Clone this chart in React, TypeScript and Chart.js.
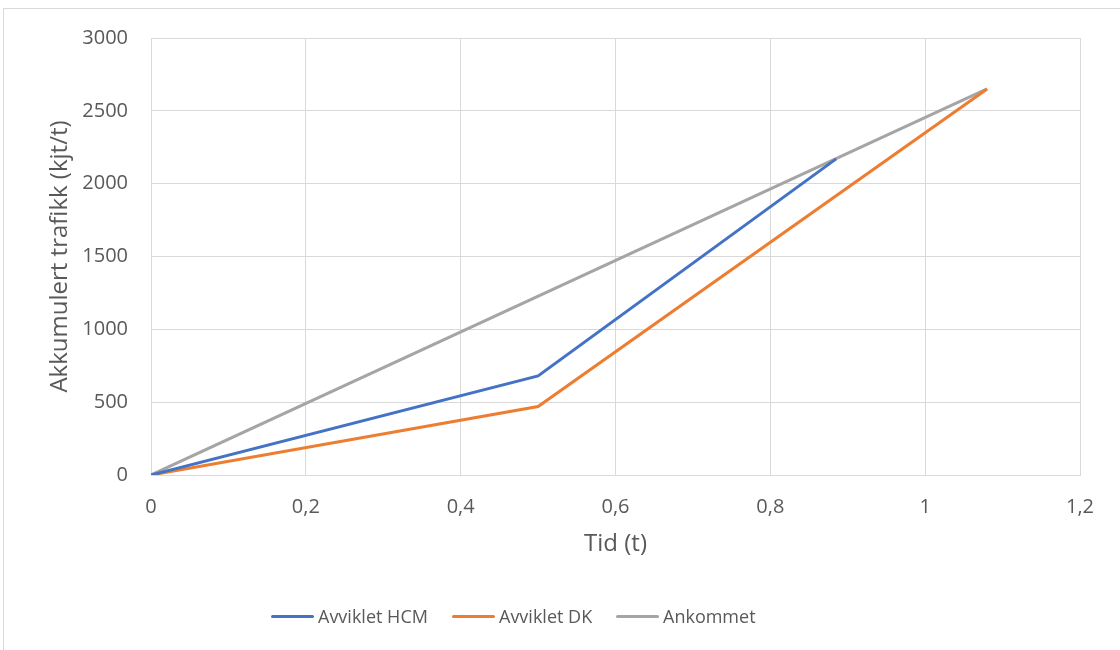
import React, { useEffect, useRef } from "react";
import { Chart, registerables } from "chart.js";

Chart.register(...registerables);

const seriesNames = ["Avviklet HCM", "Avviklet DK", "Ankommet"];
const hcmX = [0, 0.5, 0.885];
const hcmY = [0, 680, 2170];
const dkX = [0, 0.5, 1.08];
const dkY = [0, 470, 2650];
const arrX = [0, 1.08];
const arrY = [0, 2650];
const colors = ["#4472C4", "#ED7D31", "#A5A5A5"];
const legendLeft = [271, 452, 616];

const toPts = (xs: number[], ys: number[]) => xs.map((x, i) => ({ x, y: ys[i] }));
const font = "'Open Sans', 'Liberation Sans', sans-serif";

export default function App() {
  const ref = useRef<HTMLCanvasElement | null>(null);
  useEffect(() => {
    if (!ref.current) return;
    const data = [toPts(hcmX, hcmY), toPts(dkX, dkY), toPts(arrX, arrY)];
    const chart = new Chart(ref.current, {
      type: "line",
      data: {
        datasets: seriesNames.map((name, i) => ({
          label: name,
          data: data[i],
          borderColor: colors[i],
          backgroundColor: colors[i],
          borderWidth: 3,
          pointRadius: 0,
          tension: 0,
        })),
      },
      options: {
        animation: false,
        responsive: false,
        layout: { padding: { top: 38, right: 40, bottom: 83, left: 0 } },
        plugins: {
          tooltip: { enabled: false },
          legend: { display: false },
        },
        scales: {
          x: {
            type: "linear",
            min: 0,
            max: 1.2,
            ticks: {
              stepSize: 0.2,
              color: "#595959",
              font: { family: font, size: 20 },
              padding: 20,
              callback: (v: any) => String(Math.round(Number(v) * 10) / 10).replace(".", ","),
            },
            grid: { color: "#d9d9d9", lineWidth: 1, drawTicks: false },
            border: { color: "#d9d9d9" },
            title: {
              display: true,
              text: "Tid (t)",
              color: "#595959",
              font: { family: font, size: 24 },
              padding: { top: 0, bottom: 8 },
            },
            afterFit: (s: any) => {
              s.height = 92;
            },
          },
          y: {
            min: 0,
            max: 3000,
            ticks: {
              stepSize: 500,
              color: "#595959",
              font: { family: font, size: 20 },
              padding: 23,
              callback: (v: any) => String(v),
            },
            grid: { color: "#d9d9d9", lineWidth: 1, drawTicks: false },
            border: { color: "#d9d9d9" },
            title: {
              display: true,
              text: "Akkumulert trafikk (kjt/t)",
              color: "#595959",
              font: { family: font, size: 24 },
              padding: { top: 46, bottom: 0 },
            },
            afterFit: (s: any) => {
              s.width = 151;
            },
          },
        },
      },
    });
    return () => chart.destroy();
  }, []);
  return (
    <div style={{ position: "absolute", left: 0, top: 0, width: 1120, height: 650, background: "#fff", overflow: "hidden" }}>
      <div
        style={{
          position: "absolute",
          left: 3,
          top: 8,
          width: 1130,
          height: 660,
          border: "1px solid #d9d9d9",
          boxSizing: "border-box",
        }}
      />
      <canvas ref={ref} width={1120} height={650} style={{ position: "absolute", left: 0, top: 0 }} />
      {seriesNames.map((name, i) => (
        <div
          key={name}
          style={{
            position: "absolute",
            left: legendLeft[i],
            top: 602,
            height: 28,
            display: "flex",
            alignItems: "center",
            fontFamily: font,
            fontSize: 18,
            color: "#595959",
            whiteSpace: "nowrap",
          }}
        >
          <span
            style={{
              display: "inline-block",
              width: 43,
              height: 3,
              borderRadius: 2,
              background: colors[i],
              marginRight: 4,
            }}
          />
          <span>{name}</span>
        </div>
      ))}
    </div>
  );
}
